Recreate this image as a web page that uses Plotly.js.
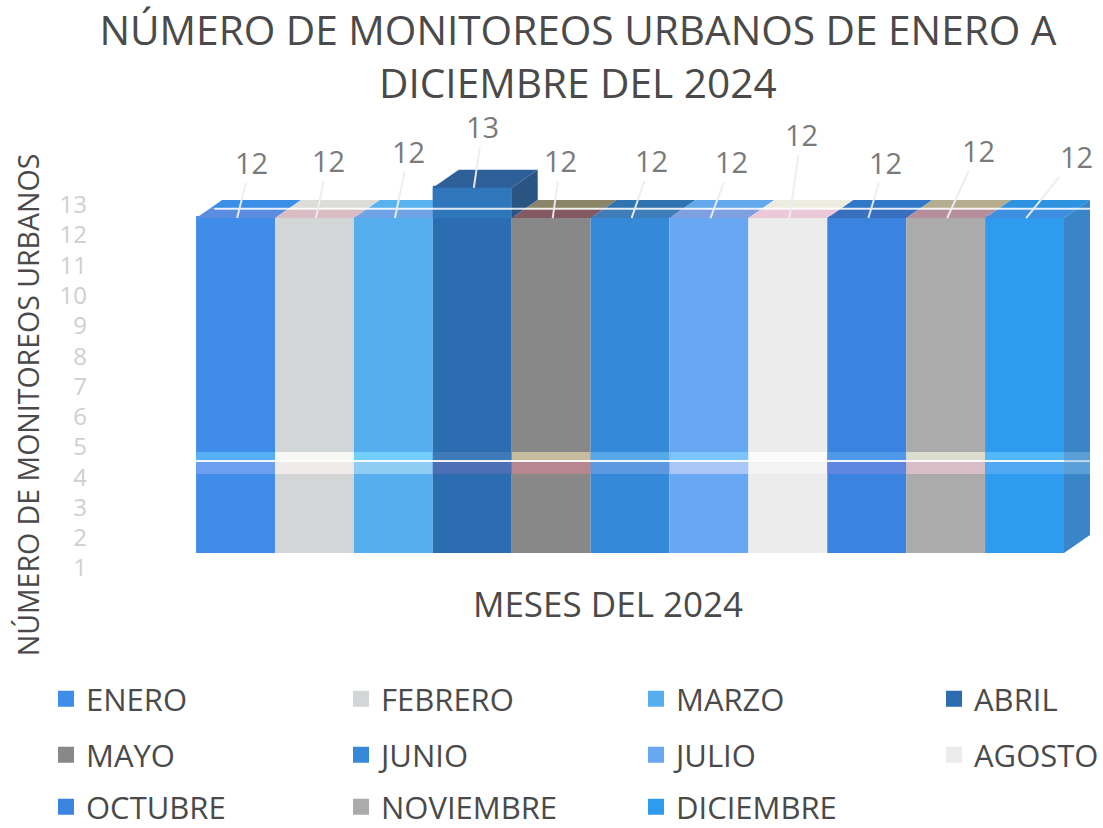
<!DOCTYPE html>
<html><head><meta charset="utf-8">
<script src="https://cdn.plot.ly/plotly-3.0.1.min.js"></script>
<style>html,body{margin:0;padding:0;background:#fff}</style></head>
<body><div id="chart" style="width:1103px;height:828px"></div>
<script>
const months = ['ENERO','FEBRERO','MARZO','ABRIL','MAYO','JUNIO','JULIO','AGOSTO','OCTUBRE','NOVIEMBRE','DICIEMBRE'];
const values = [12,12,12,13,12,12,12,12,12,12,12];
const tickValues = [1,2,3,4,5,6,7,8,9,10,11,12,13];

const frontColors = ['#3f8ceb','#d3d6d6','#57aeef','#2c6db2','#888888','#3688d8','#68a8f2','#ececec','#3a84e0','#ababab','#2f9bee'];
const stripUpper  = ['#57b0f6','#f7f7f5','#72cff9','#3f7ab8','#c8bc9f','#56a8e8','#7cc4fb','#fbfbfb','#5098e8','#ddddcf','#52b8f8'];
const stripLower  = ['#6c9ff0','#f0eaea','#90cdf5','#4c6fb5','#b8868f','#5d98e0','#a9c6f7','#f5f4f5','#5f86e0','#d8bcc6','#4fa9f2'];
const topBack     = ['#3a8ee6','#dcdcd8','#58b2ee','#2f659f','#8a8468','#2f74b0','#62a8ea','#ededdf','#3077c8','#b5ad90','#2d93e0'];
const topFront    = ['#5a8de0','#d9bcc4','#6fa5e8','#2f659f','#835a62','#3f7cb8','#7e9fe0','#ebc9d8','#3a6fc0','#b58f9c','#3f8fe0'];
const sideColor = '#3a85c8';
const tallSide = '#2a5482';
const tallTop = '#2d5f98';
const tallFront = '#2f76bb';

const labelDx = [14,12,14,9,8,20,21,12,17,31,50];
const labelDy = [-56,-58,-67,-61,-58,-58,-57,-84,-56,-68,-62];

const U = 30.27, XU = 78.9, BASE = 551, LW = 4;
const depthX = 26/XU, depthY = 18/U;
const traces = months.map((m,i)=>({
  type:'bar', x:[i], y:[values[i]-1], base:1, width:1-LW/XU, name:m,
  marker:{color:frontColors[i], line:{color:frontColors[i], width:LW}},
  legend: i===0 ? 'legend' : 'legend'+(i+1),
  hoverinfo:'name+y', cliponaxis:false
}));

const colX = [46,341,636,934], rowY = [699,755,807];
const T = 160, B = 650;
const layout = {
  width:1103, height:828, paper_bgcolor:'#fff', plot_bgcolor:'#fff',
  margin:{l:126,r:13,t:T,b:828-B,pad:0,autoexpand:false},
  font:{family:'"Open Sans",sans-serif'},
  barmode:'overlay', showlegend:true,
  title:{text:'NÚMERO DE MONITOREOS URBANOS DE ENERO A', x:578/1103, xanchor:'center', y:1-31/828, yanchor:'middle', font:{size:40.6,color:'#4a4a4a'}},
  xaxis:{range:[10.5+depthX-964/XU,10.5+depthX], showgrid:false, zeroline:false, showticklabels:false, ticks:'',
    anchor:'free', position:(B-578)/(B-T),
    title:{text:'MESES DEL 2024', font:{size:35,color:'#4a4a4a'}, standoff:14}},
  yaxis:{range:[1-(B-BASE)/U,1+(BASE-T)/U], showgrid:false, zeroline:false, showline:false, ticks:'',
    tickmode:'array', tickvals:tickValues, ticktext:tickValues.map(String),
    ticklabelshift:17, ticklabelstandoff:38,
    tickfont:{size:24,color:'#cfcfcf'},
    title:{text:'NÚMERO DE MONITOREOS URBANOS', font:{size:28.5,color:'#4a4a4a'}, standoff:11}},
  shapes:[], annotations:[]
};

function quad(x0,y0,x1,y1,x2,y2,x3,y3,color){
  layout.shapes.push({type:'path',xref:'x',yref:'y',layer:'above',line:{width:0},fillcolor:color,
    path:`M${x0},${y0}L${x1},${y1}L${x2},${y2}L${x3},${y3}Z`});
}
const midFrac = 0.52;
months.forEach((m,i)=>{
  const v = values[i], l = i-0.5, r = i+0.5;
  quad(l,4.27,r,4.27,r,3.97,l,3.97,stripUpper[i]);
  quad(l,3.97,r,3.97,r,3.54,l,3.54,stripLower[i]);
  if(v===13) return;
  const dm = depthX*midFrac, hm = depthY*midFrac;
  quad(l,v,r,v,r+dm,v+hm,l+dm,v+hm,topFront[i]);
  quad(l+dm,v+hm,r+dm,v+hm,r+depthX,v+depthY,l+depthX,v+depthY,topBack[i]);
});
const last = months.length-1;
quad(last+0.5,1-2/U,last+0.5+depthX,1-2/U+depthY,last+0.5+depthX,values[last]+depthY,last+0.5,values[last],sideColor);
quad(last+0.5,4.27,last+0.5+depthX,4.27,last+0.5+depthX,3.54,last+0.5,3.54,'#5b9fd8');
const ti = values.indexOf(Math.max(...values)), tv = values[ti];
quad(ti+0.5,tv,ti+0.5+depthX,tv+depthY,ti+0.5+depthX,values[ti+1]+depthY,ti+0.5,values[ti+1],tallSide);
quad(ti-0.5,tv,ti+0.5,tv,ti+0.5+depthX,tv+depthY,ti-0.5+depthX,tv+depthY,tallTop);
quad(ti-0.5,tv,ti+0.5,tv,ti+0.5,values[ti+1],ti-0.5,values[ti+1],tallFront);
layout.shapes.push({type:'line',xref:'x',yref:'y',layer:'above',x0:-0.5,x1:10.5,y0:3.97,y1:3.97,line:{color:'rgba(255,255,255,0.9)',width:2}});
layout.shapes.push({type:'line',xref:'x',yref:'y',layer:'above',x0:10.5,x1:10.5+depthX,y0:3.97,y1:3.97,line:{color:'rgba(255,255,255,0.6)',width:2}});
layout.shapes.push({type:'line',xref:'x',yref:'y',layer:'above',x0:-0.5+depthX*0.7,x1:10.5+depthX,y0:12.31,y1:12.31,line:{color:'rgba(255,255,255,0.85)',width:2}});

months.forEach((m,i)=>{
  layout.annotations.push({xref:'x',yref:'y',x:i+0.02,y:values[i],text:String(values[i]),
    showarrow:true,arrowhead:0,arrowwidth:2,arrowcolor:'rgba(236,238,240,0.95)',ax:labelDx[i],ay:labelDy[i],
    font:{size:29,color:'#7a7a7a'},axref:'pixel',ayref:'pixel'});
  const key = i===0?'legend':'legend'+(i+1);
  const col = i<8 ? i%4 : i-8;
  const row = i<8 ? Math.floor(i/4) : 2;
  layout[key] = {orientation:'v', x:(colX[col]-126)/964, xanchor:'left', y:(B-rowY[row])/(B-T), yanchor:'middle',
    bgcolor:'rgba(0,0,0,0)', font:{size:31,color:'#4a4a4a'}, itemclick:false, itemdoubleclick:false, borderwidth:0};
});
layout.annotations.push({xref:'paper',yref:'paper',x:(578-126)/964,y:(B-83)/(B-T),text:'DICIEMBRE DEL 2024',showarrow:false,
  xanchor:'center',yanchor:'middle',font:{size:40.6,color:'#4a4a4a'}});

Plotly.newPlot('chart',traces,layout,{displayModeBar:false,responsive:false});
</script></body></html>
